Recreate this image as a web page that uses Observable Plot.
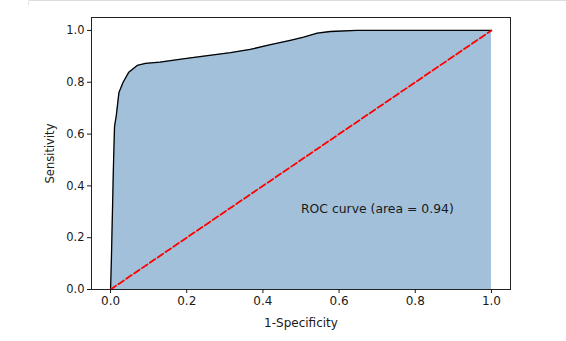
<!DOCTYPE html>
<html>
<head>
<meta charset="utf-8">
<script src="https://cdn.jsdelivr.net/npm/d3@7"></script>
<script src="https://cdn.jsdelivr.net/npm/@observablehq/plot@0.6"></script>
<style>
  html, body { margin: 0; padding: 0; background: #fff; }
  #wrap { position: relative; width: 566px; height: 341px; overflow: hidden; }
  #cell { position: absolute; left: 28px; top: 0; width: 540px; height: 4px;
          border-top: 1px solid #dcdcdc; border-left: 1px solid #e4e4e4; border-top-left-radius: 2px; }
</style>
</head>
<body>
<div id="wrap"><div id="cell"></div></div>
<script>
// ROC curve points (1-Specificity, Sensitivity)
const fpr = [0, 0.002, 0.005, 0.008, 0.0105, 0.015, 0.022, 0.033, 0.048, 0.07, 0.092, 0.13, 0.19, 0.25, 0.315, 0.367, 0.42, 0.472, 0.507, 0.543, 0.577, 0.647, 1.0];
const tpr = [0, 0.10, 0.30, 0.50, 0.63, 0.67, 0.76, 0.80, 0.839, 0.865, 0.873, 0.878, 0.890, 0.902, 0.914, 0.927, 0.945, 0.962, 0.974, 0.990, 0.996, 1.0, 1.0];
// chance diagonal
const diagX = [0, 1];
const diagY = [0, 1];
const xTicks = [0, 0.2, 0.4, 0.6, 0.8, 1.0];
const yTicks = [0, 0.2, 0.4, 0.6, 0.8, 1.0];
const annotation = { x: 0.5, y: 0.3, text: "ROC curve (area = 0.94)" };

const rows = fpr.map((f, i) => ({ fpr: f, tpr: tpr[i] }));
const diag = diagX.map((x, i) => ({ x, y: diagY[i] }));

const chart = Plot.plot({
  width: 566,
  height: 341,
  marginLeft: 91,
  marginRight: 56,
  marginTop: 17,
  marginBottom: 52,
  x: { domain: [-0.05, 1.05] },
  y: { domain: [0, 1.05] },
  style: { fontFamily: "'DejaVu Sans', sans-serif", fontSize: "11.5px", color: "#1a1a1a", background: "transparent", overflow: "visible" },
  marks: [
    Plot.areaY(rows, { x: "fpr", y: "tpr", fill: "steelblue", fillOpacity: 0.5 }),
    Plot.lineY(rows, { x: "fpr", y: "tpr", stroke: "black", strokeWidth: 1.3 }),
    Plot.line(diag, { x: "x", y: "y", stroke: "red", strokeWidth: 1.8, strokeDasharray: "6.6,2.9" }),
    Plot.text([annotation], { x: "x", y: "y", text: "text", textAnchor: "start", lineAnchor: "bottom", dy: 1, fontSize: 12.4, fill: "#1a1a1a" }),
    Plot.frame({ stroke: "#222", strokeWidth: 1 }),
    Plot.axisX({ ticks: xTicks, tickFormat: d => d.toFixed(1), tickSize: 4, tickPadding: 3, label: "1-Specificity", labelAnchor: "center", labelArrow: "none", labelOffset: 37, fontSize: 12 }),
    Plot.axisY({ ticks: yTicks, tickFormat: d => d.toFixed(1), tickSize: 4, tickPadding: 3, label: "Sensitivity", labelAnchor: "center", labelArrow: "none", labelOffset: 46 })
  ]
});
document.getElementById("wrap").prepend(chart);
</script>
</body>
</html>
